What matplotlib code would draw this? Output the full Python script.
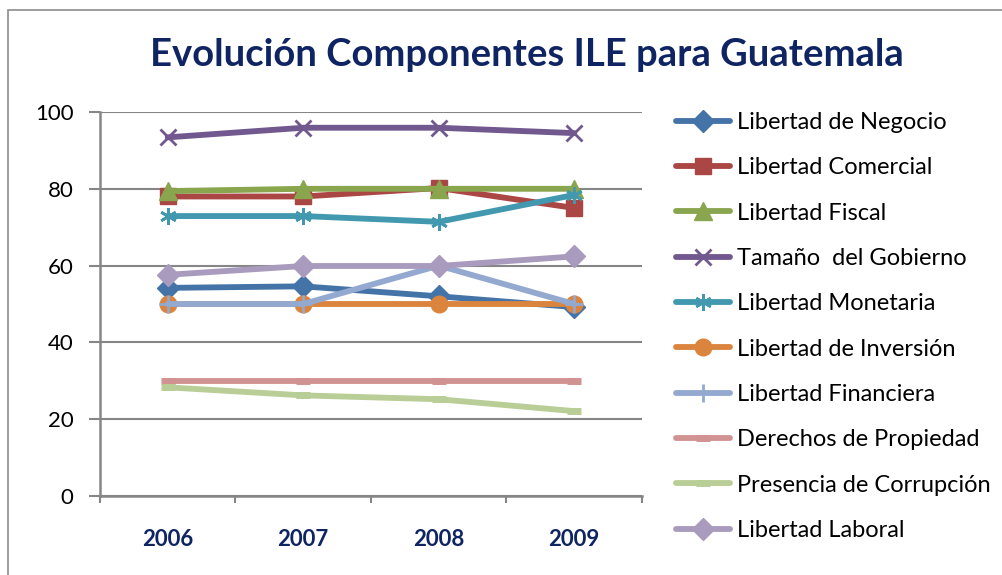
import matplotlib.pyplot as plt
from matplotlib.patches import Rectangle

# datos
years = ["2006", "2007", "2008", "2009"]
negocio = [54.2, 54.6, 52.0, 49.2]
comercial = [78.0, 78.0, 80.2, 75.0]
fiscal = [79.4, 80.0, 80.0, 80.0]
gobierno = [93.4, 95.9, 95.9, 94.5]
monetaria = [72.9, 72.9, 71.4, 78.4]
inversion = [50, 50, 50, 50]
financiera = [50, 50, 60, 50]
propiedad = [30, 30, 30, 30]
corrupcion = [28.3, 26.2, 25.2, 22.1]
laboral = [57.6, 59.9, 59.9, 62.4]

series = [
    ("Libertad de Negocio", negocio, "#4473A8", "D", 11),
    ("Libertad Comercial", comercial, "#AA4643", "s", 12),
    ("Libertad Fiscal", fiscal, "#89A54E", "^", 13),
    ("Tamaño  del Gobierno", gobierno, "#71588F", "x", 12),
    ("Libertad Monetaria", monetaria, "#4198AF", (6, 2, 0), 12),
    ("Libertad de Inversión", inversion, "#DB843D", "o", 12),
    ("Libertad Financiera", financiera, "#93A9CF", "+", 13),
    ("Derechos de Propiedad", propiedad, "#D19392", "_", 10),
    ("Presencia de Corrupción", corrupcion, "#B9CD96", "_", 10),
    ("Libertad Laboral", laboral, "#A99BBD", "D", 11),
]

plt.rcParams['font.family'] = ['Lato', 'DejaVu Sans']
navy = "#0F2463"
gray = "#868686"

fig = plt.figure(figsize=(10.03, 5.75), dpi=100)
fig.patches.append(Rectangle((8 / 1003, -0.1), 1.2, 1 - 10 / 575 + 0.1, transform=fig.transFigure,
                             fill=False, edgecolor="#8C8C8C", linewidth=1.2))

ax = fig.add_axes([100 / 1003, 1 - 496 / 575, 542 / 1003, 384 / 575])
x = list(range(len(years)))
for name, vals, col, mk, ms in series:
    mew = 2 if mk in ("x", "+") or isinstance(mk, tuple) else 1
    if mk == "_":
        mew = 5
    ax.plot(x, vals, color=col, linewidth=4.2, marker=mk, markersize=ms,
            markeredgewidth=mew, markeredgecolor=col, markerfacecolor=col,
            solid_capstyle="round", label=name)

ax.set_xlim(-0.5, 3.5)
ax.set_ylim(0, 100)
ax.set_yticks([0, 20, 40, 60, 80, 100])
ax.set_xticks([-0.5, 0.5, 1.5, 2.5, 3.5])
ax.set_xticklabels([])
ax.set_xticks(x, minor=True)
ax.set_xticklabels(years, minor=True, fontsize=16, fontweight="bold", color=navy)
ax.tick_params(axis="x", which="major", direction="out", length=5, width=1.5, color=gray)
ax.tick_params(axis="x", which="minor", length=0, pad=24)
ax.tick_params(axis="y", direction="out", length=8, width=1.5, color=gray, labelsize=16, pad=11)
ax.grid(axis="y", color=gray, linewidth=1.5)
ax.set_axisbelow(True)
for s in ("top", "right"):
    ax.spines[s].set_visible(False)
for s in ("left", "bottom"):
    ax.spines[s].set_color(gray)
    ax.spines[s].set_linewidth(1.8)

fig.text(0.525, 1 - 55 / 575, "Evolución Componentes ILE para Guatemala", ha="center", va="center",
         fontsize=27.5, fontweight="bold", color=navy)

fig.legend(loc="upper left", bbox_to_anchor=(676 / 1003, 1 - 112 / 575), frameon=False,
           fontsize=17, handlelength=2.3, handletextpad=0.3, labelspacing=1.03,
           borderaxespad=0, borderpad=0)

plt.savefig("out.png", dpi=100)
